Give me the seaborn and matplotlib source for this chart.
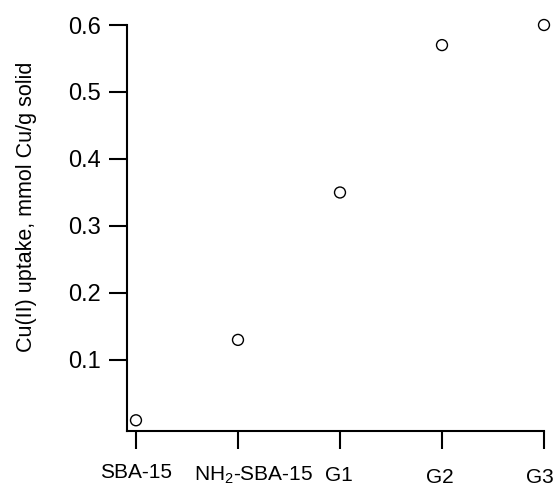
import matplotlib
matplotlib.use("Agg")
import matplotlib.pyplot as plt
import matplotlib.transforms as mtransforms
import seaborn as sns
import pandas as pd

categories = ["SBA-15", r"NH$_2$-SBA-15", "G1", "G2", "G3"]
uptake = [0.01, 0.13, 0.35, 0.57, 0.60]
yticks = [0.1, 0.2, 0.3, 0.4, 0.5, 0.6]
ytick_labels = ["0.1", "0.2", "0.3", "0.4", "0.5", "0.6"]

sns.set_theme(style="ticks")
plt.rcParams["font.family"] = ["Liberation Sans", "DejaVu Sans"]
plt.rcParams["mathtext.fontset"] = "custom"
plt.rcParams["mathtext.rm"] = "Liberation Sans"
plt.rcParams["mathtext.it"] = "Liberation Sans:italic"
plt.rcParams["mathtext.bf"] = "Liberation Sans:bold"

df = pd.DataFrame({"pos": list(range(len(categories))), "uptake": uptake})

fig = plt.figure(figsize=(5.59, 4.91), dpi=100)
ax = fig.add_axes([127 / 559, 1 - 431 / 491, (544 - 127) / 559, (431 - 25) / 491])

sns.scatterplot(data=df, x="pos", y="uptake", ax=ax, marker="o", s=62,
                facecolor="none", edgecolor="black", linewidth=1.0,
                clip_on=False, legend=False, zorder=5)

ax.set_xlim(-0.088, 4.0)
ax.set_ylim(-0.006, 0.6)
ax.set_xticks(list(range(len(categories))))
ax.set_xticklabels(categories, fontsize=15)
ax.set_yticks(yticks)
ax.set_yticklabels(ytick_labels, fontsize=17)

for side in ["top", "right"]:
    ax.spines[side].set_visible(False)
for side in ["left", "bottom"]:
    ax.spines[side].set_linewidth(1.5)
    ax.spines[side].set_color("black")

ax.tick_params(axis="both", direction="out", length=13, width=1.5, color="black", labelcolor="black")
ax.tick_params(axis="x", pad=12)
ax.tick_params(axis="y", pad=6)

# per-label nudges (dx right, dy up, in pixels)
offsets = [(0, 3), (16, 1), (-1, 0), (-2, -2), (-4, -2)]
for lab, (dx, dy) in zip(ax.get_xticklabels(), offsets):
    lab.set_transform(lab.get_transform() + mtransforms.ScaledTranslation(dx / 100, dy / 100, fig.dpi_scale_trans))

ax.set_xlabel("")
ax.set_ylabel("Cu(II) uptake, mmol Cu/g solid", fontsize=15.5, color="black")
ax.yaxis.set_label_coords(-0.216, 0.552)

fig.savefig("out.png", dpi=100)
